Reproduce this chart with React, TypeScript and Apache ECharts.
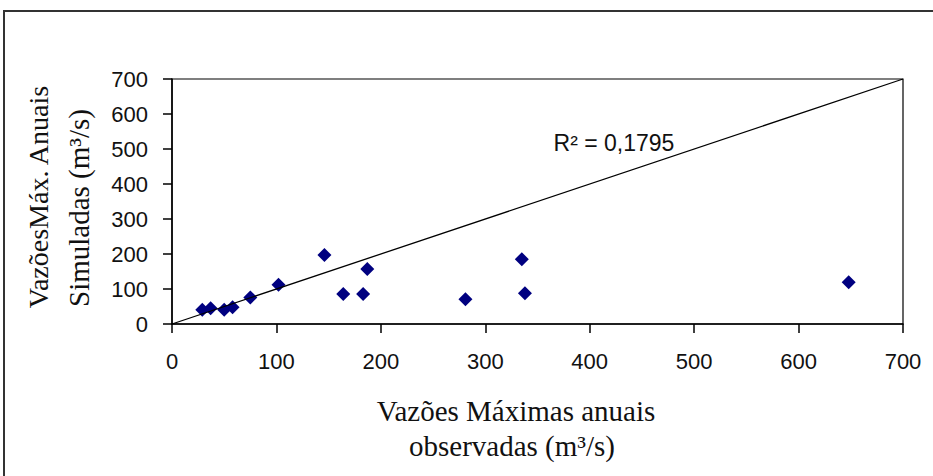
import React, { useEffect, useRef } from "react";
import * as echarts from "echarts";

const observed = [29, 37, 50, 58, 75, 102, 146, 164, 183, 187, 281, 335, 338, 648];
const simulated = [41, 45, 41, 48, 76, 112, 197, 86, 86, 157, 71, 185, 88, 119];
const lineX = [0, 700];
const lineY = [0, 700];
const r2Label = "R² = 0,1795";
const xTitle = ["Vazões Máximas anuais", "observadas (m³/s)"];
const yTitle = ["VazõesMáx. Anuais", "Simuladas (m³/s)"];

export default function App() {
  const ref = useRef<HTMLDivElement>(null);
  useEffect(() => {
    const chart = echarts.init(ref.current!, null, { renderer: "svg" });
    const serif = "'Liberation Serif', 'Times New Roman', serif";
    const sans = "'Liberation Sans Narrow', 'Liberation Sans', Arial, sans-serif";
    chart.setOption({
      animation: false,
      backgroundColor: "#ffffff",
      grid: {
        left: 172,
        top: 79,
        right: 30,
        bottom: 152,
        show: true,
        borderColor: "#000",
        borderWidth: 1.2,
        backgroundColor: "transparent",
      },
      xAxis: {
        type: "value",
        min: 0,
        max: 700,
        interval: 100,
        axisLine: { show: true, onZero: false, lineStyle: { color: "#000", width: 1.5 } },
        axisTick: { show: true, inside: false, length: 9, lineStyle: { color: "#000", width: 1.5 } },
        splitLine: { show: false },
        axisLabel: { color: "#111", fontSize: 22, fontFamily: sans, margin: 26 },
      },
      yAxis: {
        type: "value",
        min: 0,
        max: 700,
        interval: 100,
        axisLine: { show: true, onZero: false, lineStyle: { color: "#000", width: 1.5 } },
        axisTick: { show: true, inside: false, length: 9, lineStyle: { color: "#000", width: 1.5 } },
        splitLine: { show: false },
        axisLabel: { color: "#111", fontSize: 22, fontFamily: sans, margin: 24 },
      },
      series: [
        {
          type: "scatter",
          symbol: "diamond",
          symbolSize: 14,
          itemStyle: { color: "#000080", opacity: 1 },
          data: observed.map((x, i) => [x, simulated[i]]),
          z: 2,
        },
        {
          type: "line",
          showSymbol: false,
          symbol: "none",
          lineStyle: { color: "#000", width: 1.3 },
          data: lineX.map((x, i) => [x, lineY[i]]),
          z: 3,
        },
      ],
      graphic: [
        {
          type: "rect",
          shape: { x: 4, y: 11, width: 960, height: 500 },
          style: { fill: "none", stroke: "#333", lineWidth: 2 },
          silent: true,
        },
        {
          type: "text",
          x: 614,
          y: 143,
          style: { text: r2Label, font: `23px ${sans}`, fill: "#111", align: "center", verticalAlign: "middle" },
        },
        {
          type: "text",
          x: 516,
          y: 411,
          style: { text: xTitle[0], font: `29px ${serif}`, fill: "#111", align: "center", verticalAlign: "middle" },
        },
        {
          type: "text",
          x: 512,
          y: 446,
          style: { text: xTitle[1], font: `29px ${serif}`, fill: "#111", align: "center", verticalAlign: "middle" },
        },
        {
          type: "text",
          x: 38,
          y: 197,
          rotation: Math.PI / 2,
          style: { text: yTitle[0], font: `28px ${serif}`, fill: "#111", align: "center", verticalAlign: "middle" },
        },
        {
          type: "text",
          x: 79,
          y: 208,
          rotation: Math.PI / 2,
          style: { text: yTitle[1], font: `29px ${serif}`, fill: "#111", align: "center", verticalAlign: "middle" },
        },
      ],
    });
    return () => chart.dispose();
  }, []);
  return (
    <div
      ref={ref}
      style={{ position: "absolute", left: 0, top: 0, width: 933, height: 476 }}
    />
  );
}
